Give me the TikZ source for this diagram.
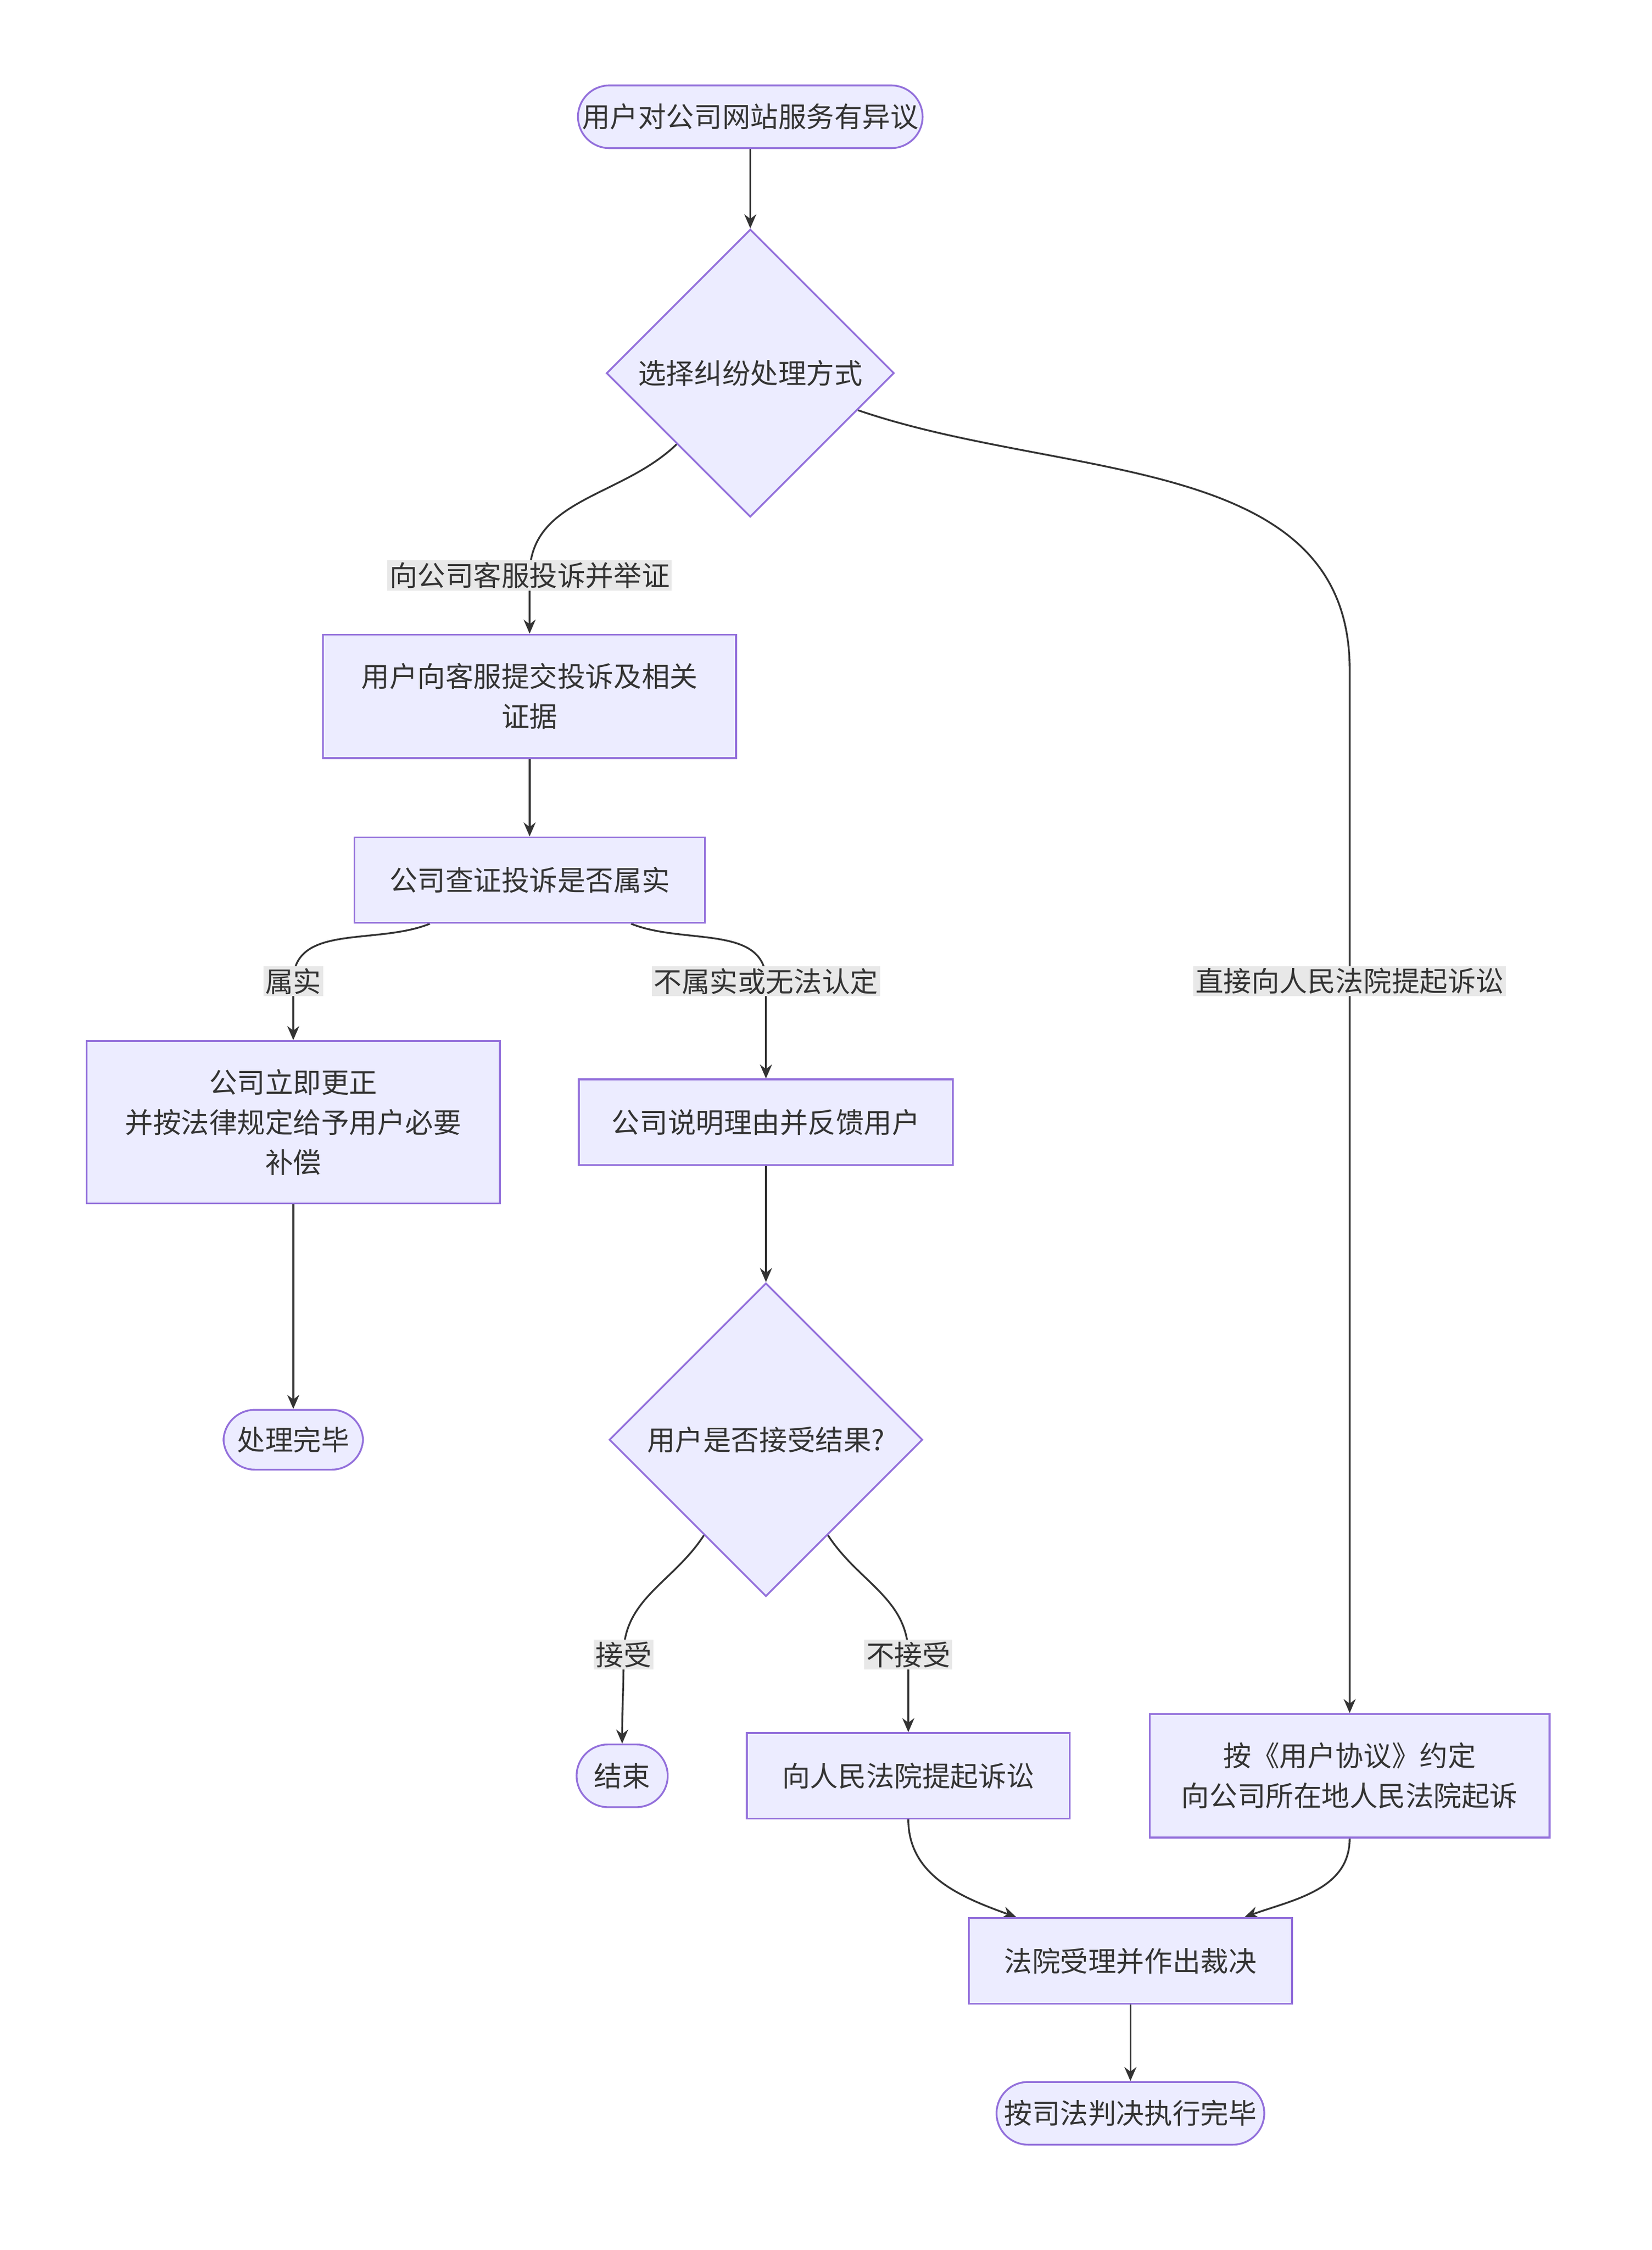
\documentclass[tikz,border=0pt]{standalone}
\usepackage{fontspec}
\setmainfont{Noto Sans CJK SC}
\usetikzlibrary{shapes.geometric,arrows.meta}
\pgfdeclarelayer{bg}
\pgfsetlayers{bg,main}
\definecolor{boxfill}{HTML}{ECECFF}
\definecolor{boxline}{HTML}{9370DB}
\definecolor{lblfill}{HTML}{E8E8E8}
\definecolor{ink}{HTML}{333333}
\tikzset{
  box/.style={draw=boxline, fill=boxfill, line width=0.9pt, text=ink, align=center, inner sep=0pt},
  pill/.style={box, rounded corners=0.55cm},
  choice/.style={box, diamond, aspect=1},
  lbl/.style={fill=lblfill, text=ink, inner sep=1pt},
  arr/.style={draw=ink, line width=0.9pt, -{Stealth[length=7pt,width=6pt]}}
}
\begin{document}
\begin{tikzpicture}[x=0.025cm, y=-0.025cm, font=\fontsize{14pt}{20pt}\selectfont]
\useasboundingbox (0,0) rectangle (1160,1580);
\node[pill, minimum width=6.05cm, minimum height=1.1cm] (start) at (527,82) {用户对公司网站服务有异议};
\node[choice, minimum width=5.05cm, minimum height=5.05cm] (pick) at (527,262) {选择纠纷处理方式};
\node[box, minimum width=7.25cm, minimum height=2.17cm] (submit) at (372,489) {用户向客服提交投诉及相关\\证据};
\node[box, minimum width=6.15cm, minimum height=1.5cm] (verify) at (372,618) {公司查证投诉是否属实};
\node[box, minimum width=7.25cm, minimum height=2.85cm] (fix) at (206,788) {公司立即更正\\并按法律规定给予用户必要\\补偿};
\node[box, minimum width=6.57cm, minimum height=1.5cm] (explain) at (538,788) {公司说明理由并反馈用户};
\node[pill, minimum width=2.45cm, minimum height=1.05cm] (done) at (206,1011) {处理完毕};
\node[choice, minimum width=5.5cm, minimum height=5.5cm] (accept) at (538,1011) {用户是否接受结果?};
\node[pill, minimum width=1.6cm, minimum height=1.1cm] (over) at (437,1247) {结束};
\node[box, minimum width=5.67cm, minimum height=1.5cm] (sue) at (638,1247) {向人民法院提起诉讼};
\node[box, minimum width=7.02cm, minimum height=2.17cm] (agree) at (948,1247) {按《用户协议》约定\\向公司所在地人民法院起诉};
\node[box, minimum width=5.67cm, minimum height=1.5cm] (court) at (794,1377) {法院受理并作出裁决};
\node[pill, minimum width=4.7cm, minimum height=1.1cm] (final) at (794,1484) {按司法判决执行完毕};
% edge labels
\node[lbl] (lcomplain) at (372,404) {向公司客服投诉并举证};
\node[lbl] (ltrue) at (206,689) {属实};
\node[lbl] (lfalse) at (538,689) {不属实或无法认定};
\node[lbl] (ldirect) at (948,689) {直接向人民法院提起诉讼};
\node[lbl] (lyes) at (438,1162) {接受};
\node[lbl] (lno) at (638,1162) {不接受};
\coordinate (bend) at (948,470);
\begin{pgfonlayer}{bg}
\draw[arr] (start) -- (pick);
\draw[arr] (pick.-136) to[out=-136,in=90] (lcomplain.center) to[out=-90,in=90] (submit);
\draw[arr] (pick.-19) to[out=-19,in=90] (bend) -- (ldirect.center) -- (agree);
\draw[arr] (submit) -- (verify);
\draw[arr] ([xshift=-1.75cm]verify.south) to[out=-158,in=90] (ltrue.center) to[out=-90,in=90] (fix);
\draw[arr] ([xshift=1.78cm]verify.south) to[out=-22,in=90] (lfalse.center) to[out=-90,in=90] (explain);
\draw[arr] (fix) -- (done);
\draw[arr] (explain) -- (accept);
\draw[arr] (accept.-123) to[out=-123,in=90] (lyes.center) to[out=-90,in=90] (over);
\draw[arr] (accept.-57) to[out=-57,in=90] (lno.center) to[out=-90,in=90] (sue);
\draw[arr] (sue) to[out=-90,in=160] ([xshift=-2cm]court.north);
\draw[arr] (agree) to[out=-90,in=20] ([xshift=2cm]court.north);
\draw[arr] (court) -- (final);
\end{pgfonlayer}
\end{tikzpicture}
\end{document}
